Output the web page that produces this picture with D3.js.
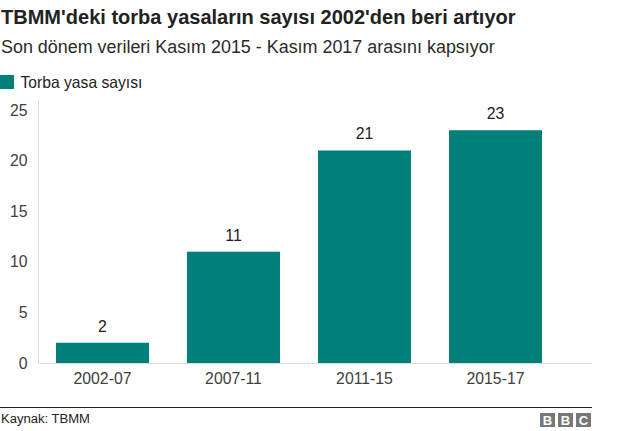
<!DOCTYPE html>
<html><head><meta charset="utf-8">
<script src="https://cdn.jsdelivr.net/npm/d3@7"></script>
<style>body{margin:0;background:#fff}svg{display:block;font-family:"Liberation Sans",Arial,Helvetica,sans-serif}</style>
</head><body><svg id="c" width="624" height="431"></svg>
<script>
const categories = ["2002-07","2007-11","2011-15","2015-17"];
const values = [2, 11, 21, 23];
const yTicks = [0,5,10,15,20,25];
const seriesName = "Torba yasa sayısı";
const title = "TBMM'deki torba yasaların sayısı 2002'den beri artıyor";
const subtitle = "Son dönem verileri Kasım 2015 - Kasım 2017 arasını kapsıyor";
const source = "Kaynak: TBMM";

(function(){
const svg = d3.select("#c");
const color = "#007f7b";
const mLeft = 38.5, mRight = 592, mTop = 110, mBottom = 363;

function fit(sel, targetW, base){
  sel.attr("font-size", base);
  const w = sel.node().getComputedTextLength();
  if (w > 0) sel.attr("font-size", base * targetW / w);
  return sel;
}

fit(svg.append("text").attr("x",1).attr("y",24).attr("font-weight","bold").attr("fill","#222").text(title), 515, 19);
fit(svg.append("text").attr("x",1).attr("y",53).attr("fill","#2a2a2a").text(subtitle), 494, 16);
svg.append("rect").attr("x",0).attr("y",75).attr("width",14).attr("height",14).attr("fill",color);
fit(svg.append("text").attr("x",20.5).attr("y",88).attr("fill","#222").text(seriesName), 122, 15);

const y = d3.scaleLinear().domain([0,25]).range([mBottom, mTop]);
const x = d3.scaleBand().domain(categories).range([37, 561]).paddingInner(0.29).paddingOuter(0.145);

svg.append("line").attr("x1",mLeft).attr("x2",mLeft).attr("y1",100).attr("y2",mBottom).attr("stroke","#dcdcdc");
const ya = svg.append("g").attr("transform",`translate(${mLeft},0)`)
  .call(d3.axisLeft(y).tickValues(yTicks).tickSize(0).tickPadding(11));
ya.select(".domain").remove();
ya.selectAll("text").attr("font-size",15.8).attr("fill","#404040").attr("font-family","Liberation Sans, Arial, sans-serif");

svg.selectAll("rect.bar").data(values).join("rect").attr("class","bar")
  .attr("x",(d,i)=>x(categories[i])).attr("width",x.bandwidth())
  .attr("y",d=>y(d)).attr("height",d=>y(0)-y(d)).attr("fill",color);

svg.selectAll("text.val").data(values).join("text").attr("class","val")
  .attr("x",(d,i)=>x(categories[i])+x.bandwidth()/2).attr("y",d=>y(d)-11)
  .attr("text-anchor","middle").attr("font-size",15.8).attr("fill","#222").text(d=>d);

svg.append("line").attr("x1",mLeft).attr("x2",mRight).attr("y1",mBottom+0.5).attr("y2",mBottom+0.5).attr("stroke","#dcdcdc");

const xa = svg.append("g").attr("transform",`translate(0,${mBottom})`)
  .call(d3.axisBottom(x).tickSize(0).tickPadding(10));
xa.select(".domain").remove();
xa.selectAll("text").attr("font-size",15.8).attr("fill","#404040").attr("font-family","Liberation Sans, Arial, sans-serif");

svg.append("line").attr("x1",0).attr("x2",mRight).attr("y1",407.5).attr("y2",407.5).attr("stroke","#222").attr("stroke-width",1);
fit(svg.append("text").attr("x",1).attr("y",423).attr("fill","#222").text(source), 89, 13);
const logo = svg.append("g");
["B","B","C"].forEach((l,i)=>{
  const lx = 540 + i*18;
  logo.append("rect").attr("x",lx).attr("y",413).attr("width",15).attr("height",14).attr("fill","#777");
  logo.append("text").attr("x",lx+7.5).attr("y",425).attr("text-anchor","middle").attr("font-size",13).attr("font-weight","bold").attr("fill","#fff").text(l);
});
})();
</script></body></html>
